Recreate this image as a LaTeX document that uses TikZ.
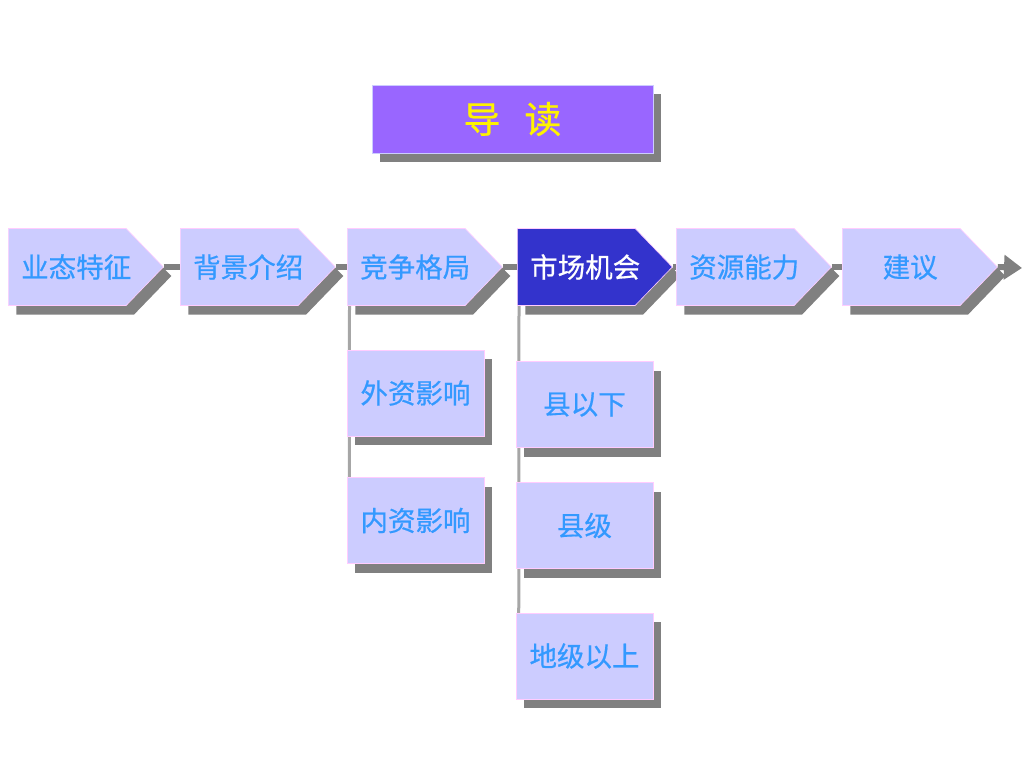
\documentclass[tikz,border=0pt]{standalone}
\usepackage{fontspec}
\newfontfamily\cjk[FakeBold=0.6]{Noto Sans CJK SC}
\usetikzlibrary{arrows.meta, positioning, shapes.symbols, shadows, backgrounds}
\definecolor{mBox}{HTML}{CCCCFF}
\definecolor{mText}{HTML}{3399FF}
\definecolor{mDark}{HTML}{3333CC}
\definecolor{mTitle}{HTML}{9966FF}
\definecolor{mEdge}{HTML}{FFCCFF}
\definecolor{mShadow}{HTML}{808080}
\definecolor{mLine}{HTML}{A6A6A6}

\begin{document}
\begin{tikzpicture}[x=1pt, y=-1pt,
      shd/.style={drop shadow={shadow xshift=8pt, shadow yshift=-9pt, fill=mShadow, opacity=1}},
      chev/.style={signal, signal to=east, signal pointer angle=92, minimum width=155pt,
        minimum height=77pt, inner sep=0pt, draw=mEdge, line width=0.6pt,
        font=\cjk\fontsize{27.5}{30}\selectfont,
        execute at begin node={\hspace*{9pt}}, execute at end node={\hspace*{-9pt}}, shd},
      sub/.style={rectangle, minimum width=137pt, minimum height=86pt, inner sep=0pt,
        fill=mBox, draw=mEdge, line width=0.6pt, text=mText,
        font=\cjk\fontsize{27.5}{30}\selectfont, shd},
      link/.style={draw=mShadow, line width=6pt},
      vline/.style={draw=mLine, line width=3pt}]
    \useasboundingbox (0,0) rectangle (1024,768);
    % title
    \node[rectangle, minimum width=281pt, minimum height=68pt, fill=mTitle, draw=mBox,
      line width=0.8pt, text=yellow, font=\cjk\fontsize{37}{40}\selectfont, shd]
      (title) at (512.5,119) {导\hspace{0.65em}读};
    % main row
    \foreach \x/\t [count=\i from 1] in {8/业态特征, 180/背景介绍, 347/竞争格局,
        517/市场机会, 676/资源能力, 842/建议} {
      \ifnum\i=4 \def\fc{mDark}\def\tc{white}\else\def\fc{mBox}\def\tc{mText}\fi
      \node[chev, fill=\fc, text=\tc, anchor=west] (b\i) at (\x,267) {\t};
    }
    % row links
    \foreach \i [evaluate=\i as \j using int(\i+1)] in {1,...,5}
      \draw[link] (b\i.east) -- (b\j.west);
    \coordinate (end) at (1022,268);
    \draw[link, -{Triangle[length=18pt, width=24pt]}] (b6.east) -- (end);
    % sub boxes
    \node[sub] (s1) at (415.5,393) {外资影响};
    \node[sub] (s2) at (415.5,520.5) {内资影响};
    \node[sub] (s3) at (584.5,404.5) {县以下};
    \node[sub] (s4) at (584.5,525.5) {县级};
    \node[sub] (s5) at (584.5,656) {地级以上};
    \begin{scope}[on background layer]
      \draw[vline] ([xshift=2.5pt]b3.west |- b3.south) -- ([xshift=2.5pt]s2.west);
      \draw[vline] ([xshift=2pt]b4.west |- b4.south) -- ([xshift=3pt]s5.west);
    \end{scope}
  \end{tikzpicture}
\end{document}
